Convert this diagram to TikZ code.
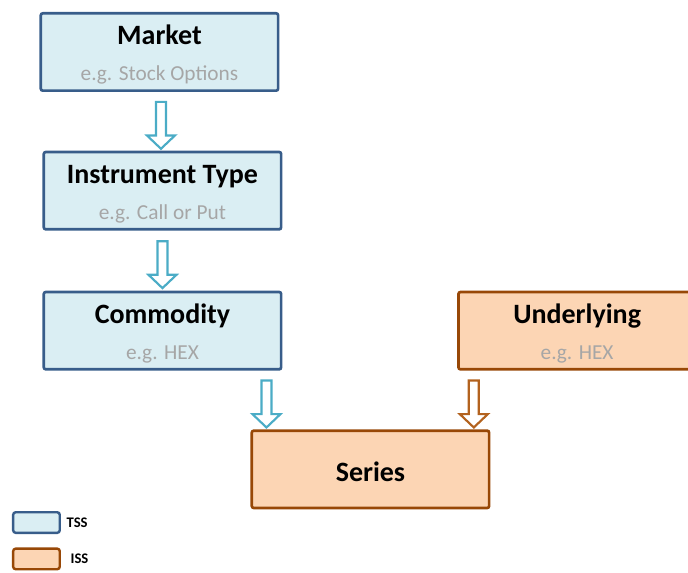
\documentclass[tikz,border=0pt]{standalone}
\usepackage{fontspec}
\setmainfont{Carlito}
\usetikzlibrary{positioning}

\definecolor{tssfill}{HTML}{DAEEF3}
\definecolor{tssline}{HTML}{385D8A}
\definecolor{issfill}{HTML}{FCD5B4}
\definecolor{issline}{HTML}{984807}
\definecolor{tssflow}{HTML}{4BACC6}
\definecolor{issflow}{HTML}{B3621E}
\definecolor{hint}{HTML}{A6A6A6}

\newcommand{\boxtitle}[1]{{\fontsize{21}{24}\selectfont\bfseries\rule{0pt}{19pt}#1}}
\newcommand{\boxhint}[1]{{\color{hint}#1}}

\begin{document}
\begin{tikzpicture}[
            block/.style={draw, line width=2pt, rounded corners=1.5pt, minimum width=178pt, minimum height=58pt, align=center, font=\fontsize{16}{19}\selectfont},
            tss/.style={block, draw=tssline, fill=tssfill},
            iss/.style={block, draw=issline, fill=issfill},
            legendbox/.style={draw, line width=1.8pt, rounded corners=2pt, minimum width=35pt, minimum height=15.5pt},
            keytext/.style={font=\fontsize{11}{13}\selectfont\bfseries, inner sep=0pt},
            flow/.style={line width=1.6pt, fill=white},
            pics/downarrow/.style={code={
              \draw[pic actions] (-3.75pt,14.6pt) -- (3.75pt,14.6pt) -- (3.75pt,-10.6pt) -- (10.5pt,-10.6pt)
                -- (0pt,-20.6pt) -- (-10.5pt,-10.6pt) -- (-3.75pt,-10.6pt) -- cycle;}},
            node distance = 44pt
  ]

  \useasboundingbox (-119.6pt,39pt) rectangle (396.4pt,-390.75pt);

  \node[tss] (market) {\boxtitle{Market}\\[8pt]\boxhint{e.g. Stock Options}};
  \node[tss, xshift=2.25pt] (instr) [below=of market] {\boxtitle{Instrument Type}\\[8pt]\boxhint{e.g. Call or Put}};
  \node[tss] (commodity) [below=45pt of instr] {\boxtitle{Commodity}\\[8pt]\boxhint{e.g. HEX}};
  \node[iss] (underlying) [right=131pt of commodity] {\boxtitle{Underlying}\\[8pt]\boxhint{e.g. HEX}};
  \node[iss] (series) [below right=44pt and -24pt of commodity] {\boxtitle{Series}};

  \path (market.south) -- coordinate[midway] (flow1) (instr.north);
  \path (instr.south) -- coordinate[midway] (flow2) (commodity.north);
  \path (commodity.south east) -- coordinate[midway] (flow3) (series.north west);
  \path (underlying.south west) -- coordinate[midway] (flow4) (series.north east);

  \path (flow1) pic[flow, draw=tssflow] {downarrow};
  \path (flow2) pic[flow, draw=tssflow] {downarrow};
  \path (flow3) pic[flow, draw=tssflow] {downarrow};
  \path (flow4) pic[flow, draw=issflow] {downarrow};

  \node[legendbox, draw=tssline, fill=tssfill] (tsskey) at (-92.25pt,-352.9pt) {};
  \node[legendbox, draw=issline, fill=issfill] (isskey) [below=10pt of tsskey] {};
  \node[keytext] (tsslabel) [right=4pt of tsskey] {TSS};
  \node[keytext] (isslabel) [right=7pt of isskey] {ISS};

\end{tikzpicture}
\end{document}
